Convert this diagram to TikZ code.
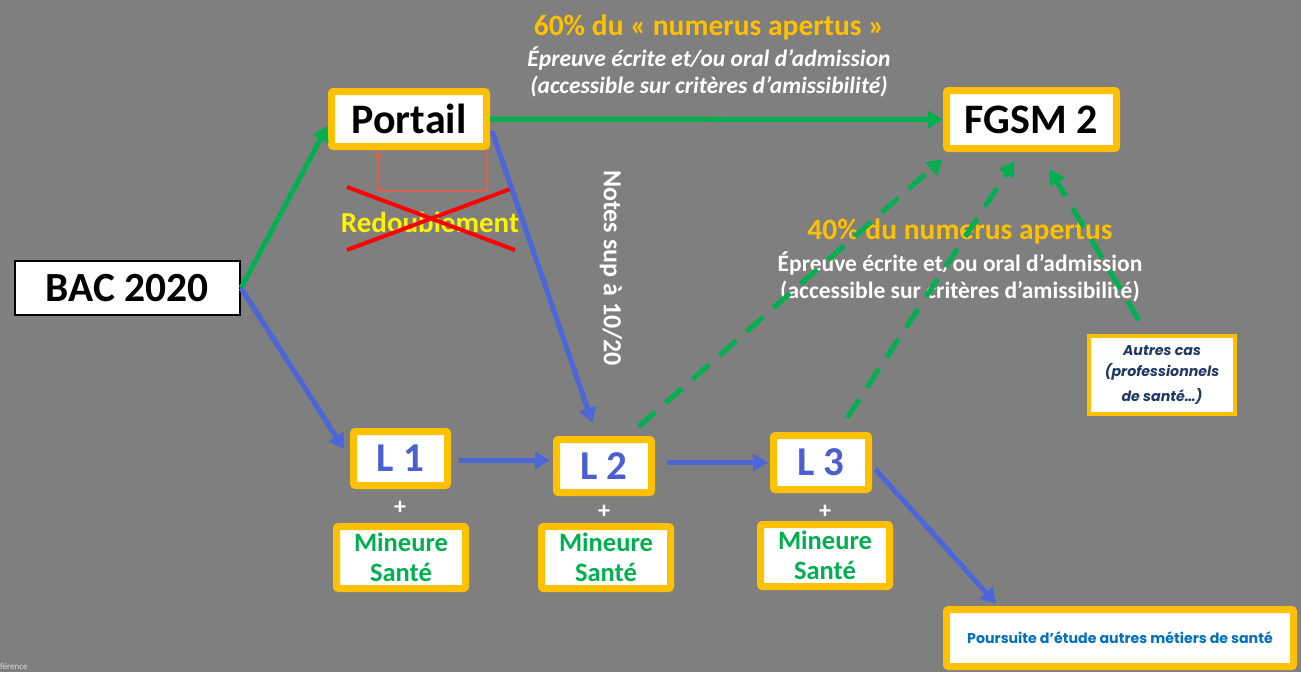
\documentclass[tikz,border=0pt]{standalone}
\usepackage{fontspec}
\setmainfont{Carlito}
\newfontfamily\popfont{Poppins}
\usetikzlibrary{arrows.meta,calc}
\definecolor{bggray}{HTML}{7F7F7F}
\definecolor{boxyellow}{HTML}{FFC000}
\definecolor{arrblue}{HTML}{4A66D9}
\definecolor{txtblue}{HTML}{4A5FD0}
\definecolor{arrgreen}{HTML}{00B050}
\definecolor{navy}{HTML}{1F3864}
\definecolor{poblue}{HTML}{0070C0}
\definecolor{loopred}{HTML}{E0604E}
\newcommand{\fs}[1]{\fontsize{#1}{#1}\selectfont}
\tikzset{
  ybox/.style={draw=boxyellow, line width=7pt, fill=white, rounded corners=2pt, inner sep=0pt, align=center},
  bluearr/.style={draw=arrblue, line width=5pt, -{Triangle[length=15pt,width=17pt]}},
  greenarr/.style={draw=arrgreen, line width=5pt, -{Triangle[length=15pt,width=17pt]}},
  greendash/.style={draw=arrgreen, line width=5pt, dash pattern=on 22pt off 14pt, -{Triangle[length=15pt,width=17pt]}},
  lbl/.style={inner sep=0pt, align=center},
}
\begin{document}
\begin{tikzpicture}[x=1pt,y=-1pt]
\fill[bggray] (0,0) rectangle (1301,672);
\useasboundingbox (0,0) rectangle (1301,672);

% boxes
\node[draw=black, line width=2pt, fill=white, inner sep=0pt, minimum width=225pt, minimum height=54pt, font=\bfseries\fs{41.5}] (bac) at (127.5,288) {BAC 2020};
\node[ybox, minimum width=155pt, minimum height=55pt, font=\bfseries\fs{42}] (portail) at (409,119) {Portail};
\node[ybox, minimum width=170pt, minimum height=58pt, font=\bfseries\fs{42}] (fgsm) at (1031.5,119.5) {FGSM 2};
\node[ybox, minimum width=94pt, minimum height=54pt, font=\bfseries\fs{41}, text=txtblue] (l1) at (400.5,458.5) {L 1};
\node[ybox, minimum width=95pt, minimum height=53pt, font=\bfseries\fs{41}, text=txtblue] (l2) at (604,466) {L 2};
\node[ybox, minimum width=95pt, minimum height=54pt, font=\bfseries\fs{41}, text=txtblue] (l3) at (821,462.5) {L 3};
\node[ybox, minimum width=129pt, minimum height=62pt, font=\bfseries\fs{26.5}, text=arrgreen] (m1) at (401,557.5) {Mineure\\[3pt]Santé};
\node[ybox, minimum width=129pt, minimum height=62pt, font=\bfseries\fs{26.5}, text=arrgreen] (m2) at (606,557.5) {Mineure\\[3pt]Santé};
\node[ybox, minimum width=129pt, minimum height=62pt, font=\bfseries\fs{26.5}, text=arrgreen] (m3) at (825,555.5) {Mineure\\[3pt]Santé};
\node[ybox, line width=4pt, rounded corners=0pt, minimum width=146pt, minimum height=78pt, font=\popfont\bfseries\itshape\fs{14.2}, text=navy] (autres) at (1162,375) {Autres cas\\[7pt](professionnels\\[7pt]de santé…)};
\node[ybox, minimum width=347pt, minimum height=57pt, font=\popfont\bfseries\fs{14.2}, text=poblue] (pours) at (1120,638) {Poursuite d’étude autres métiers de santé};

% plus signs
\node[lbl, text=white, font=\bfseries\fs{24}] (p1) at (400,508) {+};
\node[lbl, text=white, font=\bfseries\fs{24}] (p2) at (604,512) {+};
\node[lbl, text=white, font=\bfseries\fs{24}] (p3) at (825,512) {+};

% labels
\node[lbl, text=boxyellow, font=\bfseries\fs{29.5}] (t60) at (709,27) {60\% du « numerus apertus »};
\node[lbl, text=white, font=\bfseries\itshape\fs{23.5}] (t60a) at (709,58) {Épreuve écrite et/ou oral d’admission};
\node[lbl, text=white, font=\bfseries\itshape\fs{23.5}] (t60b) at (709,87) {(accessible sur critères d’amissibilité)};
\node[lbl, text=boxyellow, font=\bfseries\fs{29.5}] (t40) at (960,231) {40\% du numerus apertus};
\node[lbl, text=white, font=\bfseries\fs{23.5}] (t40a) at (960,263) {Épreuve écrite et/ou oral d’admission};
\node[lbl, text=white, font=\bfseries\fs{23.5}] (t40b) at (960,292) {(accessible sur critères d’amissibilité)};
\node[lbl, text=white, font=\bfseries\fs{26}, rotate=-90] (notes) at (611,268) {Notes sup à 10/20};
\node[lbl, text=yellow, font=\bfseries\fs{29}] (redo) at (430,222) {Redoublement};
\node[lbl, text=black!15, font=\fs{9}, anchor=base west] (conf) at (0,669) {férence};

% redoublement loop (crossed out)
\draw[loopred, line width=2pt, -{Triangle[length=7pt,width=7pt]}] ([xshift=78pt]portail.south) -- ++(0,41) -| ([xshift=-31pt]portail.south);
\draw[red, line width=4pt] (347,187) -- (515,250);
\draw[red, line width=4pt] (347,250) -- (513,188);

% connectors
\draw[greenarr, shorten >=1pt] (bac.east) -- ([yshift=-6pt]portail.west);
\draw[bluearr, shorten >=11pt] (bac.east) -- (l1.west);
\draw[greenarr] (portail.east) -- (fgsm.west);
\draw[bluearr, shorten >=14pt] ([yshift=-12pt,xshift=2pt]portail.east) -- ([xshift=-7pt]l2.north);
\draw[bluearr, shorten <=8pt, shorten >=3pt] ([yshift=-2pt]l1.east) -- ([yshift=-2pt]l2.west |- l1.east);
\draw[bluearr, shorten <=12pt, shorten >=2pt] (l2.east |- l3.west) -- (l3.west);
\draw[bluearr, shorten <=5pt, shorten >=3pt] ([yshift=-3pt]l3.east) -- ([xshift=-122pt]pours.north);
\draw[greendash, shorten <=14pt, shorten >=11pt] ([xshift=24pt]l2.north) -- ([xshift=-81pt]fgsm.south);
\draw[greendash, shorten <=17pt, shorten >=11pt] ([xshift=17pt]l3.north) -- ([xshift=-11pt]fgsm.south);
\draw[greendash, shorten <=16pt, shorten >=20pt] ([xshift=-15pt]autres.north) -- ([xshift=8pt]fgsm.south);
\end{tikzpicture}
\end{document}
